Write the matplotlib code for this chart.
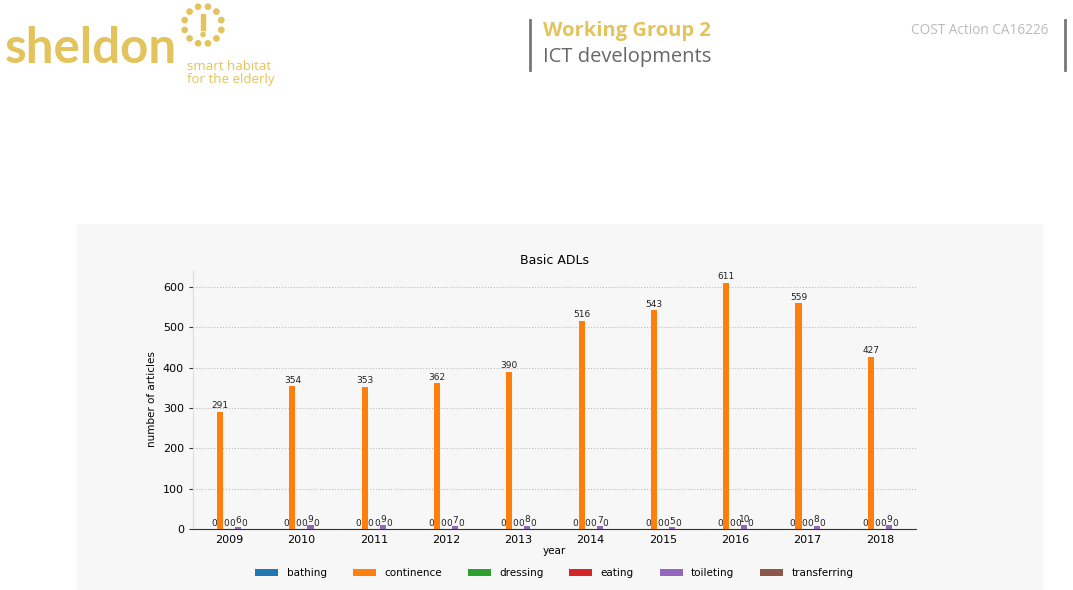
import numpy as np
import matplotlib
matplotlib.use("Agg")
import matplotlib.pyplot as plt
from matplotlib.patches import Rectangle, Circle

years = ["2009", "2010", "2011", "2012", "2013", "2014", "2015", "2016", "2017", "2018"]
categories = ["bathing", "continence", "dressing", "eating", "toileting", "transferring"]
bathing = [0, 0, 0, 0, 0, 0, 0, 0, 0, 0]
continence = [291, 354, 353, 362, 390, 516, 543, 611, 559, 427]
dressing = [0, 0, 0, 0, 0, 0, 0, 0, 0, 0]
eating = [0, 0, 0, 0, 0, 0, 0, 0, 0, 0]
toileting = [6, 9, 9, 7, 8, 7, 5, 10, 8, 9]
transferring = [0, 0, 0, 0, 0, 0, 0, 0, 0, 0]
colors = ["#1f77b4", "#ff7f0e", "#2ca02c", "#d62728", "#9467bd", "#8c564b"]

gold = "#e3c35b"

fig = plt.figure(figsize=(10.73, 5.90), dpi=100)
fig.patch.set_facecolor("white")

# --- slide header ---
fig.text(0.004, 1 - 63/590, "sheldon", fontsize=35.5, fontweight="bold", color=gold,
         family="Lato", va="baseline", ha="left")
# logo dots
icon = fig.add_axes([203/1073 - 0.025, 1 - 25/590 - 0.045, 0.05, 0.09])
icon.set_xlim(-1.4, 1.4)
icon.set_ylim(-1.4, 1.4)
icon.set_aspect("equal")
icon.axis("off")
for a in np.deg2rad(np.arange(0, 360, 30) + 15):
    icon.add_patch(Circle((np.cos(a), np.sin(a)), 0.14, color=gold))
icon.add_patch(Rectangle((-0.08, -0.25), 0.16, 0.85, color=gold))
icon.add_patch(Circle((0, -0.5), 0.11, color=gold))
fig.text(187/1073, 1 - 66/590, "smart habitat", fontsize=9.5, color=gold,
         family="Open Sans", va="center")
fig.text(187/1073, 1 - 80/590, "for the elderly", fontsize=9.5, color=gold,
         family="Open Sans", va="center")

fig.add_artist(plt.Line2D([530/1073, 530/1073], [1 - 20/590, 1 - 70/590],
                          color="#777777", lw=2))
fig.add_artist(plt.Line2D([1065/1073, 1065/1073], [1 - 20/590, 1 - 70/590],
                          color="#777777", lw=2))
fig.text(543/1073, 1 - 31/590, "Working Group 2", fontsize=14.5, fontweight="bold",
         color=gold, family="Open Sans", va="center")
fig.text(543/1073, 1 - 57/590, "ICT developments", fontsize=14.5,
         color="#666666", family="Open Sans", va="center")
fig.text(1048/1073, 1 - 30/590, "COST Action CA16226", fontsize=9.8,
         color="#bbbbbb", family="Open Sans", va="center", ha="right")

# --- chart panel ---
fig.add_artist(Rectangle((77/1073, 0), 966/1073, 366/590, transform=fig.transFigure,
                         facecolor="#f7f7f7", edgecolor="none", zorder=0))

ax = fig.add_axes([193/1073, 1 - 529/590, 723/1073, 259/590])
ax.set_facecolor("#f7f7f7")
series = [bathing, continence, dressing, eating, toileting, transferring]
x = np.arange(len(years))
w = 0.5 / len(categories)
for i, (name, vals) in enumerate(zip(categories, series)):
    bars = ax.bar(x + (i - 2.5) * w, vals, w, color=colors[i], label=name, zorder=3)
    ax.bar_label(bars, fontsize=6.5, padding=1, color="#222222")

ax.set_xlim(-0.5, 9.5)
ax.set_ylim(0, 642)
ax.set_xticks(x)
ax.set_xticklabels(years, fontsize=8)
ax.set_yticks(range(0, 601, 100))
ax.tick_params(axis="y", labelsize=8, length=3, color="#333333")
ax.tick_params(axis="x", length=0, pad=4)
ax.yaxis.grid(True, linestyle=":", color="#bbbbbb", lw=0.8, zorder=0)
for s in ["top", "right"]:
    ax.spines[s].set_visible(False)
ax.spines["left"].set_color("#dddddd")
ax.spines["bottom"].set_color("#333333")
ax.set_title("Basic ADLs", fontsize=9, pad=4)
ax.set_xlabel("year", fontsize=7.5, labelpad=1)
ax.set_ylabel("number of articles", fontsize=7.5)
ax.legend(loc="upper center", bbox_to_anchor=(0.5, -0.115), ncol=6, frameon=False,
          fontsize=7.5, handlelength=2.2, handleheight=0.6, columnspacing=2.5)

fig.savefig("out.png", dpi=100)
